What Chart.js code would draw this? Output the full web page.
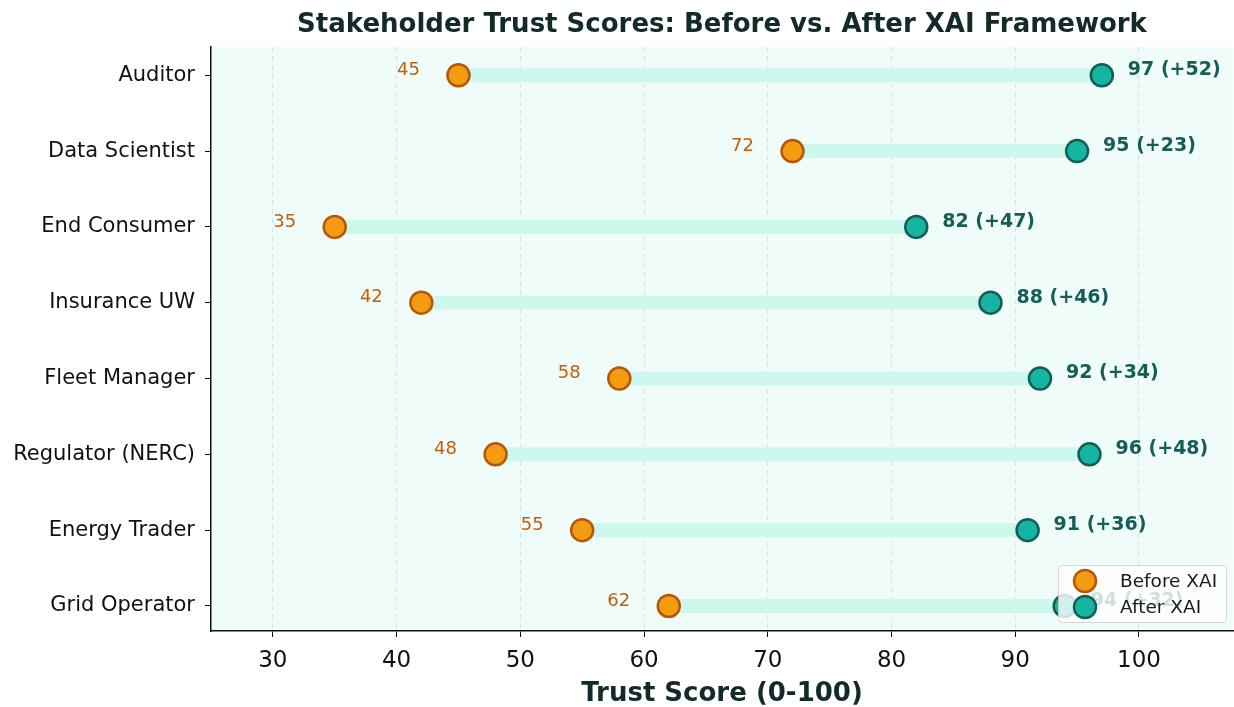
<!DOCTYPE html>
<html>
<head>
<meta charset="utf-8">
<script src="https://cdn.jsdelivr.net/npm/chart.js@4/dist/chart.umd.min.js"></script>
<style>
  html, body { margin: 0; padding: 0; background: #ffffff; }
  canvas { display: block; }
</style>
</head>
<body>
<canvas id="trustChart" width="1234" height="707"></canvas>
<script>
const stakeholders = ["Auditor", "Data Scientist", "End Consumer", "Insurance UW",
    "Fleet Manager", "Regulator (NERC)", "Energy Trader", "Grid Operator"];
const beforeScores = [45, 72, 35, 42, 58, 48, 55, 62];
const afterScores = [97, 95, 82, 88, 92, 96, 91, 94];
const xTicks = [30, 40, 50, 60, 70, 80, 90, 100];

const FONT = "'DejaVu Sans', sans-serif";
const BEFORE_FILL = "#f39c12";
const BEFORE_EDGE = "#b5560a";
const AFTER_FILL = "#16b5a2";
const AFTER_EDGE = "#135e57";

// one thick line per stakeholder, from before to after
const connectors = stakeholders.map((s, i) => ({
    type: "line",
    data: [{ x: beforeScores[i], y: i }, { x: afterScores[i], y: i }],
    borderColor: "#ccf8ee",
    borderWidth: 14,
    borderCapStyle: "butt",
    pointRadius: 0,
    order: 3
}));

const bgPlugin = {
    id: "plotBg",
    beforeDraw(chart) {
        const a = chart.chartArea;
        const ctx = chart.ctx;
        ctx.save();
        ctx.fillStyle = "#f0fcfa";
        ctx.fillRect(a.left, a.top, a.right - a.left, a.bottom - a.top);
        ctx.restore();
    }
};

const labelPlugin = {
    id: "valueLabels",
    afterDatasetsDraw(chart) {
        const ctx = chart.ctx;
        const n = stakeholders.length;
        const before = chart.getDatasetMeta(n).data;
        const after = chart.getDatasetMeta(n + 1).data;
        ctx.save();
        ctx.textBaseline = "middle";
        before.forEach((p, i) => {
            ctx.font = "18px " + FONT;
            ctx.fillStyle = "#c0600f";
            ctx.textAlign = "center";
            ctx.fillText(String(beforeScores[i]), p.x - 50, p.y - 5);
        });
        after.forEach((p, i) => {
            ctx.font = "bold 19px " + FONT;
            ctx.fillStyle = "#135e57";
            ctx.textAlign = "left";
            const d = afterScores[i] - beforeScores[i];
            ctx.fillText(afterScores[i] + " (+" + d + ")", p.x + 26, p.y - 5);
        });
        ctx.restore();
    },
    afterDraw(chart) {
        // legend box in the lower right corner of the plot
        const a = chart.chartArea;
        const ctx = chart.ctx;
        const w = 168, h = 57;
        const x = a.right - 7 - w, y = a.bottom - 9 - h;
        ctx.save();
        ctx.fillStyle = "rgba(255,255,255,0.8)";
        ctx.strokeStyle = "rgba(204,204,204,0.8)";
        ctx.lineWidth = 1;
        ctx.beginPath();
        ctx.roundRect(x + 0.5, y + 0.5, w, h, 4);
        ctx.fill();
        ctx.stroke();
        const items = [["Before XAI", BEFORE_FILL, BEFORE_EDGE], ["After XAI", AFTER_FILL, AFTER_EDGE]];
        items.forEach((it, k) => {
            const cy = y + 16 + k * 26;
            ctx.beginPath();
            ctx.arc(x + 27, cy, 11, 0, Math.PI * 2);
            ctx.fillStyle = it[1];
            ctx.fill();
            ctx.lineWidth = 2.5;
            ctx.strokeStyle = it[2];
            ctx.stroke();
            ctx.fillStyle = "#1a1a1a";
            ctx.font = "18.5px " + FONT;
            ctx.textAlign = "left";
            ctx.textBaseline = "middle";
            ctx.fillText(it[0], x + 62, cy + 1);
        });
        ctx.restore();
    }
};

new Chart(document.getElementById("trustChart"), {
    type: "scatter",
    data: {
        datasets: connectors.concat([
            {
                label: "Before XAI",
                data: beforeScores.map((v, i) => ({ x: v, y: i })),
                backgroundColor: BEFORE_FILL,
                borderColor: BEFORE_EDGE,
                borderWidth: 2.5,
                pointRadius: 11,
                order: 2
            },
            {
                label: "After XAI",
                data: afterScores.map((v, i) => ({ x: v, y: i })),
                backgroundColor: AFTER_FILL,
                borderColor: AFTER_EDGE,
                borderWidth: 2.5,
                pointRadius: 11,
                order: 1
            }
        ])
    },
    options: {
        responsive: false,
        animation: false,
        layout: { autoPadding: false, padding: { left: 10, right: 1, bottom: 0 } },
        plugins: {
            legend: { display: false },
            tooltip: { enabled: false },
            title: {
                display: true,
                fullSize: false,
                text: "Stakeholder Trust Scores: Before vs. After XAI Framework",
                color: "#132a2a",
                font: { family: FONT, size: 26, weight: "bold" },
                padding: { top: 10, bottom: 6 }
            }
        },
        scales: {
            x: {
                type: "linear",
                min: 25,
                max: 107.6,
                afterBuildTicks: s => { s.ticks = xTicks.map(v => ({ value: v })); },
                afterFit: s => { s.height = 76; },
                ticks: {
                    color: "#111",
                    font: { family: FONT, size: 23 },
                    padding: 10,
                    maxRotation: 0
                },
                grid: {
                    color: "rgba(180,200,200,0.45)",
                    tickColor: "#111",
                    tickBorderDash: [],
                    tickLength: 6,
                    lineWidth: 1
                },
                border: { color: "#111", width: 1.5, dash: [5, 4] },
                title: {
                    display: true,
                    text: "Trust Score (0-100)",
                    color: "#132a2a",
                    font: { family: FONT, size: 26, weight: "bold" },
                    padding: { top: 0, bottom: -3 }
                }
            },
            y: {
                type: "linear",
                reverse: true,
                min: -0.37,
                max: 7.33,
                afterBuildTicks: s => { s.ticks = stakeholders.map((c, i) => ({ value: i })); },
                afterFit: s => { s.width = 201; },
                ticks: {
                    color: "#111",
                    font: { family: FONT, size: 21 },
                    padding: 10,
                    callback: v => stakeholders[v]
                },
                grid: {
                    drawOnChartArea: false,
                    tickColor: "#111",
                    tickLength: 6
                },
                border: { color: "#111", width: 1.5 }
            }
        }
    },
    plugins: [bgPlugin, labelPlugin]
});
</script>
</body>
</html>
